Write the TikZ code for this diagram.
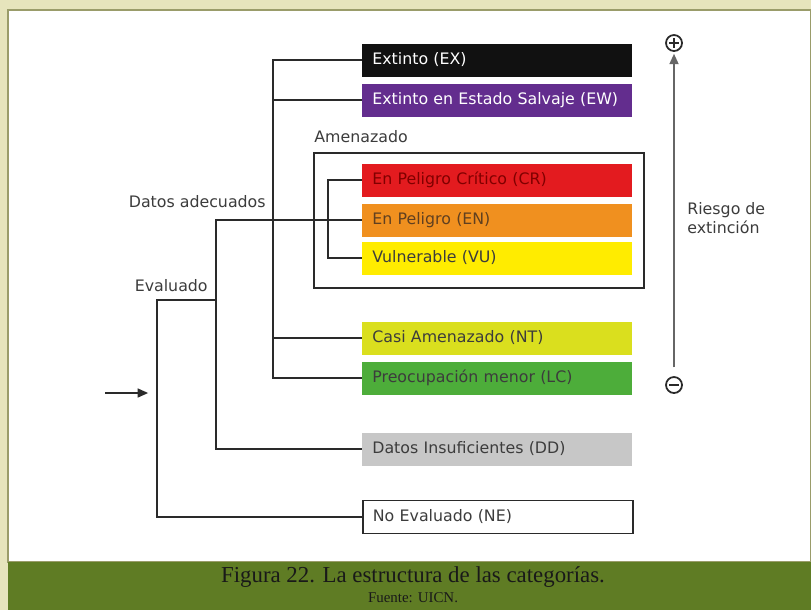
\documentclass[tikz,border=0pt]{standalone}
\usepackage{fontspec}
\setmainfont{DejaVu Sans}
\newfontfamily\pieletra{Liberation Serif}
\usetikzlibrary{arrows.meta}

\definecolor{fondo}{HTML}{E6E4BC}
\definecolor{borde}{HTML}{9A9C6A}
\definecolor{verde}{HTML}{5F7C24}
\definecolor{trazo}{HTML}{2A2A2A}
\definecolor{gris}{HTML}{3C3C3C}
\definecolor{catEX}{HTML}{111111}
\definecolor{catEW}{HTML}{632D8E}
\definecolor{catCR}{HTML}{E31B1F}
\definecolor{catEN}{HTML}{F0901F}
\definecolor{catVU}{HTML}{FFEC00}
\definecolor{catNT}{HTML}{DADF1E}
\definecolor{catLC}{HTML}{4DAD3A}
\definecolor{catDD}{HTML}{C7C7C7}

\begin{document}
\begin{tikzpicture}[x=0.02cm, y=-0.02cm,
    cat/.style={anchor=west, text width=5cm, inner xsep=0.2cm, inner ysep=0pt,
        minimum height=0.66cm, align=left, font=\fontsize{9}{10}\selectfont, text=gris},
    linea/.style={line width=1.1pt, color=trazo},
    etiqueta/.style={font=\fontsize{9}{11}\selectfont, text=gris, inner sep=0pt},
    signo/.style={circle, draw=trazo, line width=1pt, inner sep=0pt, minimum size=0.32cm}]

    \useasboundingbox (0,0) rectangle (811,610);
    \fill[fondo] (0,0) rectangle (811,610);
    \filldraw[fill=white, draw=borde, line width=0.8pt] (8,10) rectangle (811,562);
    \fill[verde] (8,562) rectangle (811,610);

    % categorias
    \node[cat, fill=catEX, text=white] (ex) at (362,60) {Extinto (EX)};
    \node[cat, fill=catEW, text=white] (ew) at (362,100) {Extinto en Estado Salvaje (EW)};
    \node[cat, fill=catCR, text=red!50!black] (cr) at (362,180) {En Peligro Crítico (CR)};
    \node[cat, fill=catEN, text=brown!50!black] (en) at (362,220) {En Peligro (EN)};
    \node[cat, fill=catVU] (vu) at (362,258) {Vulnerable (VU)};
    \node[cat, fill=catNT] (nt) at (362,338) {Casi Amenazado (NT)};
    \node[cat, fill=catLC] (lc) at (362,378) {Preocupación menor (LC)};
    \node[cat, fill=catDD] (dd) at (362,449) {Datos Insuficientes (DD)};
    \node[cat, fill=white, draw=trazo, line width=1pt] (ne) at (362,517) {No Evaluado (NE)};

    \node[draw=trazo, line width=1.1pt, anchor=north west, minimum width=6.6cm,
        minimum height=2.7cm] (amenazado) at (313,152) {};
    \node[etiqueta, anchor=south west] (tamen) at (314,143) {Amenazado};

    \coordinate (inicio) at (157,393);
    \coordinate (eval) at (216,300);
    \coordinate (datos) at (273,220);
    \coordinate (grupo) at (328,220);
    \coordinate (entrada) at (105,393);

    \draw[linea] (ex.west) -| (lc.west -| datos) -- (lc.west);
    \draw[linea] (ew.west) -- (ew.west -| datos);
    \draw[linea] (nt.west) -- (nt.west -| datos);
    \draw[linea] (en.west) -- (en.west -| eval) |- (dd.west);
    \draw[linea] (eval) -| (ne.west -| inicio) -- (ne.west);
    \draw[linea] (cr.west) -| (vu.west -| grupo) -- (vu.west);
    \draw[linea, -{Triangle[length=6pt, width=5pt]}, shorten >=5pt] (entrada) -- (inicio);

    \node[etiqueta, anchor=east] (tdatos) at (266,202) {Datos adecuados};
    \node[etiqueta, anchor=east] (teval) at (208,286) {Evaluado};

    % riesgo
    \node[signo] (mas) at (674,43) {};
    \node[signo] (menos) at (674,385) {};
    \draw[line width=1.2pt, trazo] ([xshift=-2.6pt]mas.center) -- ([xshift=2.6pt]mas.center);
    \draw[line width=1.2pt, trazo] ([yshift=-2.6pt]mas.center) -- ([yshift=2.6pt]mas.center);
    \draw[line width=1.2pt, trazo] ([xshift=-2.6pt]menos.center) -- ([xshift=2.6pt]menos.center);
    \draw[line width=1.3pt, color=gray!80!black, -{Triangle[length=6pt, width=5pt]},
        shorten <=5pt, shorten >=1pt] (menos.north) -- (mas.south);
    \node[etiqueta, anchor=west, align=left] (triesgo) at (687,218) {Riesgo de\\extinción};

    % pie
    \node[font=\pieletra\fontsize{13}{14}\selectfont, text=black!90] (titulo) at (413,577)
        {Figura 22. La estructura de las categorías.};
    \node[font=\pieletra\fontsize{8.5}{9}\selectfont, text=black!90] (fuente) at (413,598)
        {Fuente: UICN.};
\end{tikzpicture}
\end{document}
